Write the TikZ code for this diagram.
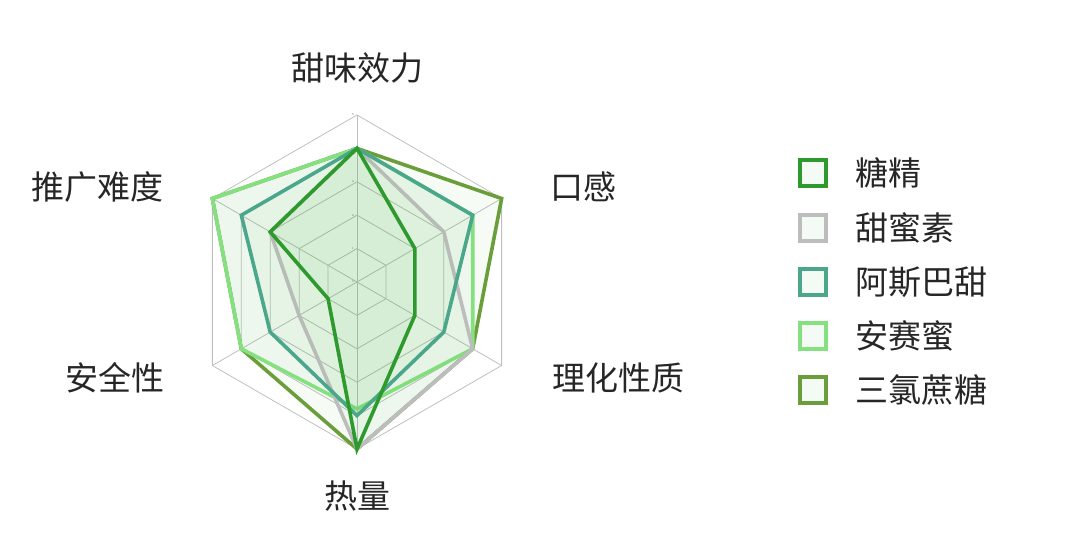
\documentclass[tikz,border=0pt]{standalone}
\usepackage{fontspec}
\usetikzlibrary{calc}
\newfontfamily\cjk{Noto Sans CJK SC}
\begin{document}
\begin{tikzpicture}[x=1pt,y=-1pt,
  ring/.style={draw=black!25,line width=0.8pt},
  series/.style={line width=3.6pt,line join=miter,fill=green!40!gray,fill opacity=0.05},
  lab/.style={font=\cjk\fontsize{33}{33}\selectfont,inner sep=0,text=black!85},
  tick/.style={font=\fontsize{3}{3}\selectfont,text=black!60,inner sep=0},
  legbox/.style={draw,line width=3.5pt,fill=green!40!gray,fill opacity=0.06,text opacity=1,minimum size=26pt,inner sep=0}]
\definecolor{cA}{HTML}{2E9A2E}
\definecolor{cB}{HTML}{BDBDBD}
\definecolor{cC}{HTML}{4BA78B}
\definecolor{cD}{HTML}{85E07F}
\definecolor{cE}{HTML}{6A9E3A}
\useasboundingbox (0,0) rectangle (1080,545);
\coordinate (O) at (357,282);
\def\u{33.4}
% rings
\foreach \r in {1,...,5}{
  \draw[ring] ($(O)+(90:\r*\u)$) \foreach \a in {30,-30,-90,-150,150}{ -- ($(O)+(\a:\r*\u)$)} -- cycle;
}
\foreach \a in {90,30,-30,-90,-150,150}{ \draw[ring] (O) -- ($(O)+(\a:5*\u)$); }
\foreach \r in {0,...,5}{ \node[tick,anchor=east] at ($(O)+(-3,-\r*\u)$) {\r}; }
\newcommand\seriesplot[7]{%
  \draw[series,draw=#1] ($(O)+(0,-#2*\u)$) -- ($(O)+(-30:#3*\u)$) -- ($(O)+(30:#4*\u)$) -- ($(O)+(0,#5*\u)$) -- ($(O)+(150:#6*\u)$) -- ($(O)+(-150:#7*\u)$) -- cycle;}
\seriesplot{cE}{4}{5}{4}{5}{4}{5}
\seriesplot{cD}{4}{4}{4}{3.8}{4}{5}
\seriesplot{cB}{4}{3}{4}{5}{2}{3}
\seriesplot{cC}{4}{4}{3}{4}{3}{4}
\seriesplot{cA}{4}{2}{2}{5}{1}{3}
% axis labels
\node[lab] (l1) at (357,68) {甜味效力};
\node[lab] (l2) at (583,187) {口感};
\node[lab] (l3) at (618,378) {理化性质};
\node[lab] (l4) at (357,496) {热量};
\node[lab] (l5) at (115,378) {安全性};
\node[lab] (l6) at (97,187) {推广难度};
% legend
\foreach \c/\t/\y [count=\i] in {cA/糖精/173,cB/甜蜜素/228,cC/阿斯巴甜/282,cD/安赛蜜/336,cE/三氯蔗糖/390}{
  \node[legbox,draw=\c] (k\i) at (813,\y) {};
  \node[lab,anchor=west] (t\i) at (855,\y) {\t};
}
\end{tikzpicture}
\end{document}
